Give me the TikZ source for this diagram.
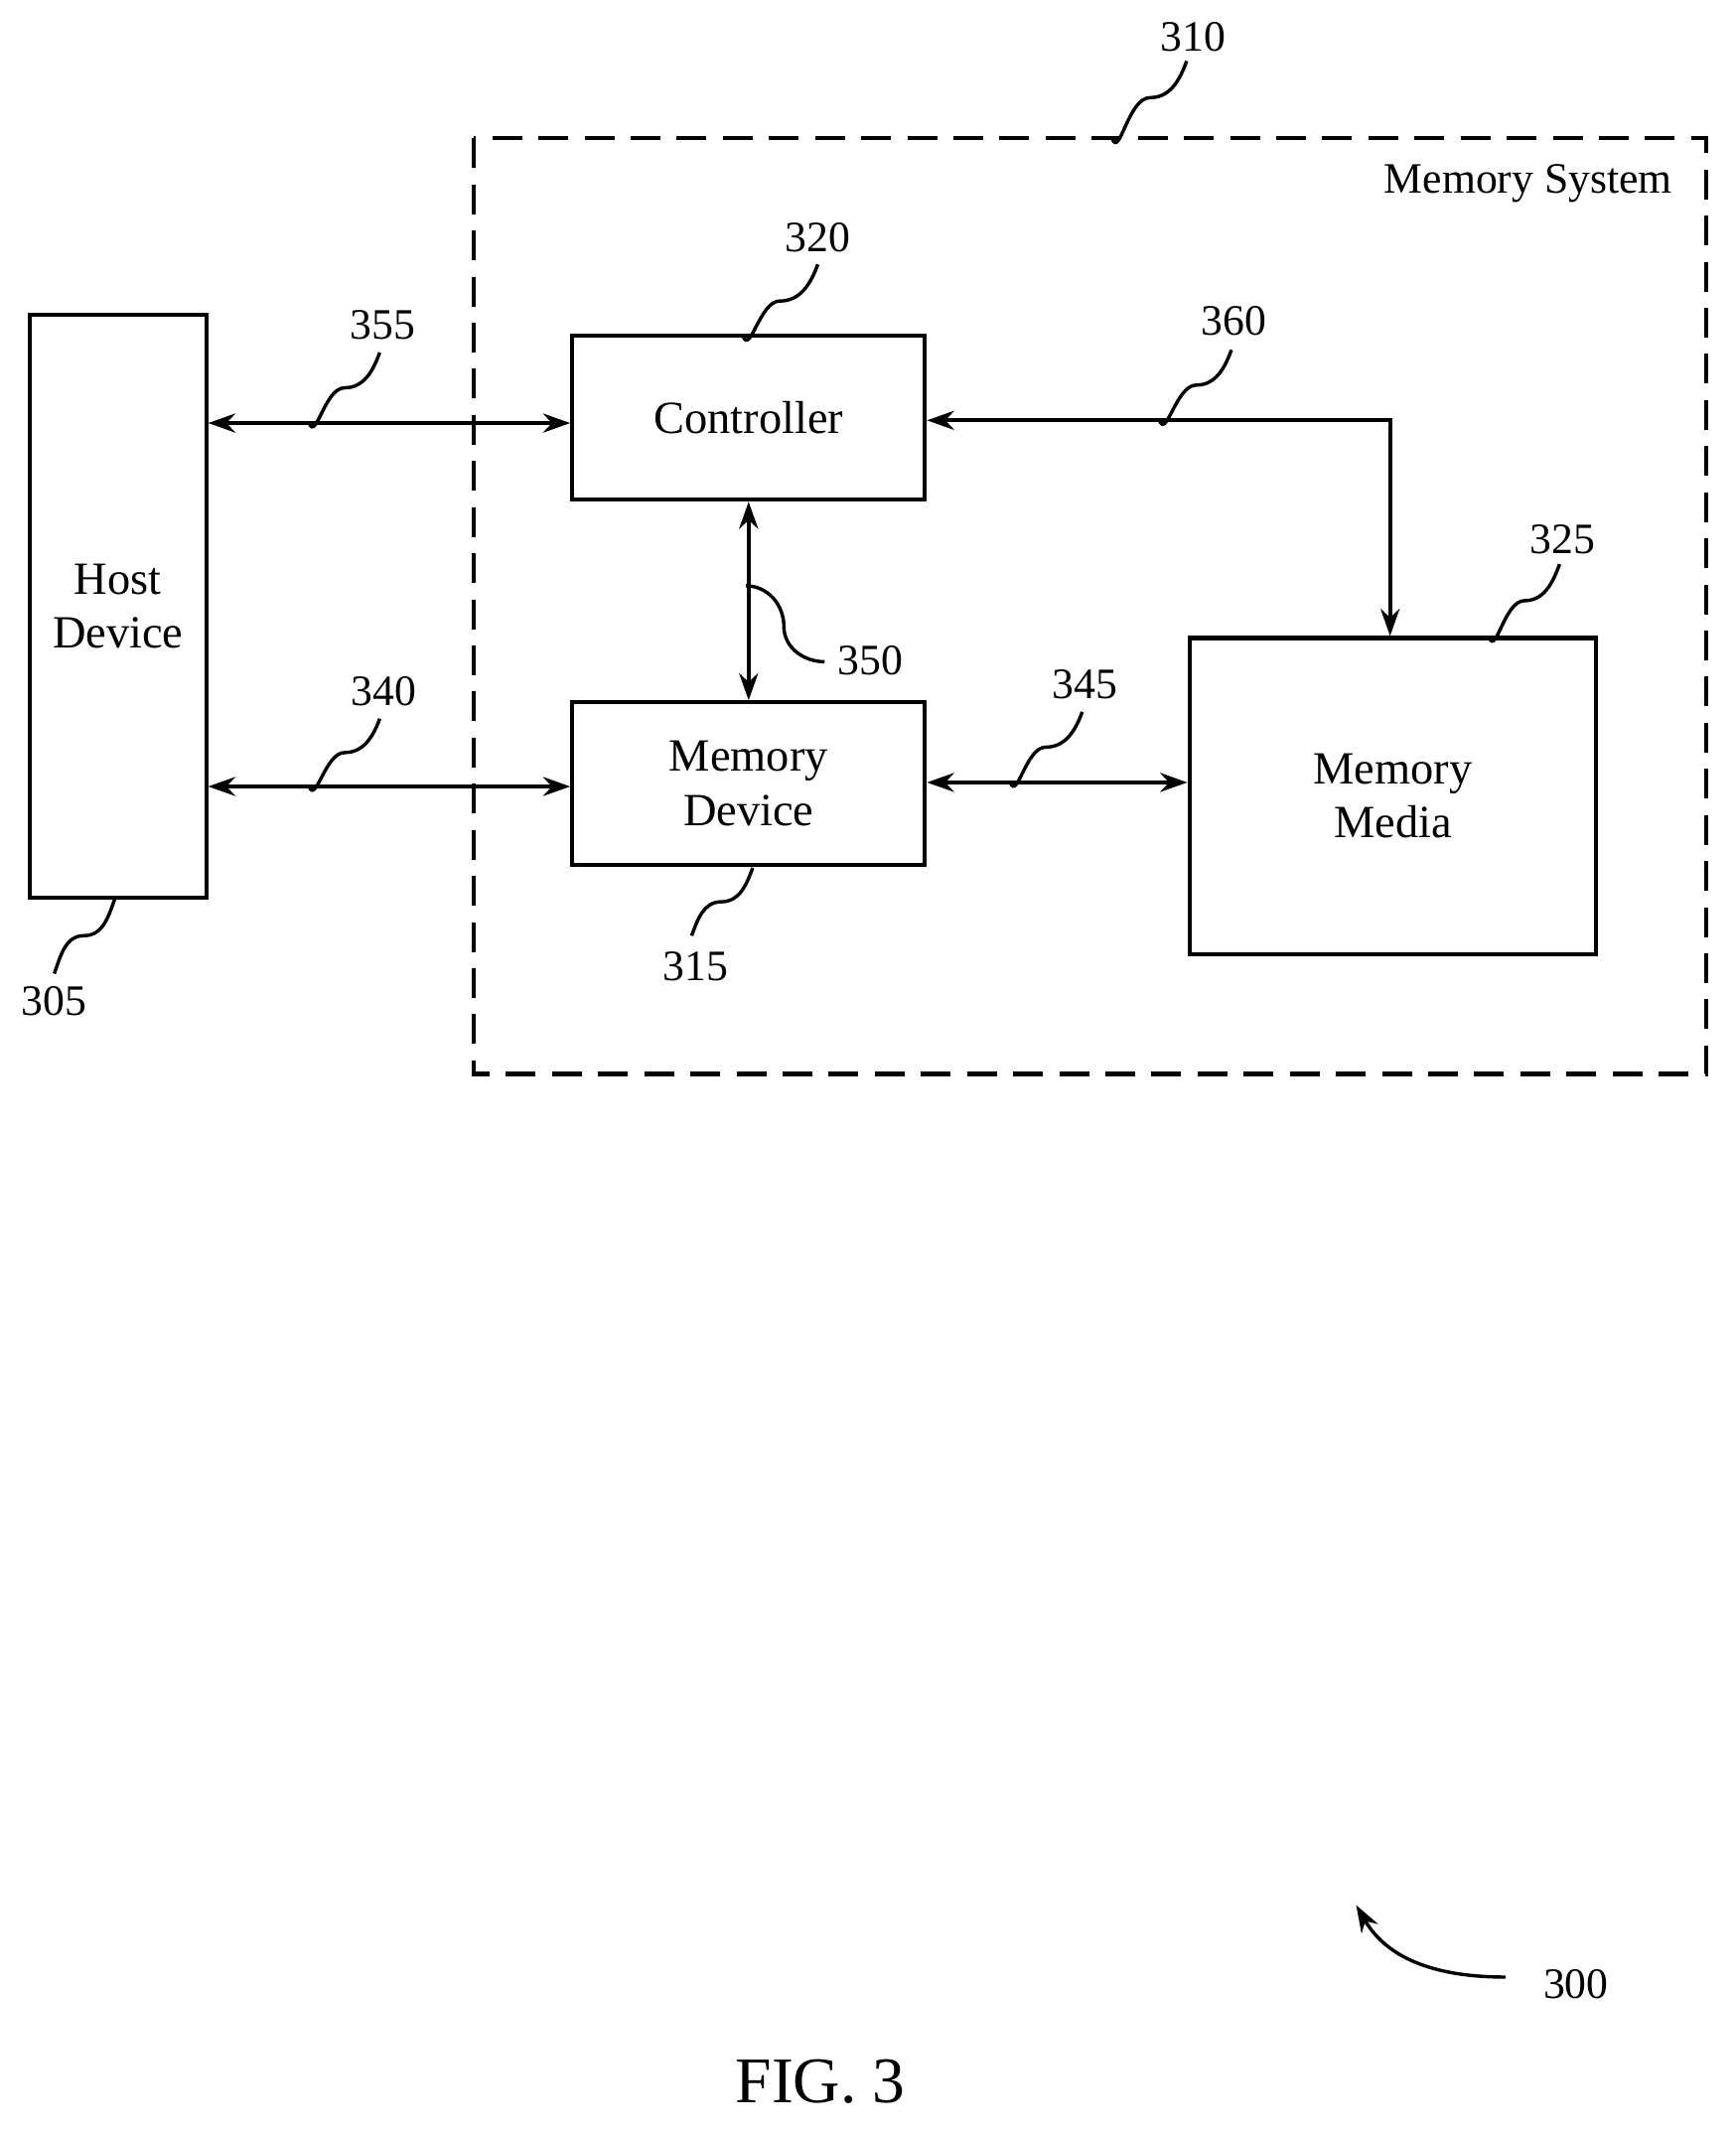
\documentclass[tikz,border=0pt]{standalone}
\usepackage{fontspec}
\setmainfont{Liberation Serif}
\usetikzlibrary{arrows.meta}
\begin{document}
\begin{tikzpicture}[x=1pt,y=-1pt,line width=3pt,
  box/.style={draw,align=center,inner sep=0pt,font=\fontsize{34}{40}\selectfont},
  lbl/.style={font=\fontsize{32}{36}\selectfont},
  ar/.style={{Stealth[length=20pt,width=14pt]}-{Stealth[length=20pt,width=14pt]}},
  ld/.style={line width=2.5pt}]
\useasboundingbox (0,0) rectangle (1280,1573);
\draw[dash pattern=on 22pt off 12pt] (349,102) rectangle (1258,792);
\node[font=\fontsize{32}{36}\selectfont,anchor=east] (ms) at (1238,135) {Memory System};
\node[box,minimum width=130pt,minimum height=430pt] (host) at (87,447) {Host\\Device};
\node[box,minimum width=260pt,minimum height=121pt] (ctl) at (552,308) {Controller};
\node[box,minimum width=260pt,minimum height=120pt] (md) at (552,578) {Memory\\Device};
\node[box,minimum width=300pt,minimum height=233pt] (mm) at (1027,587) {Memory\\Media};
\draw[ar] (host.east|-0,312) -- (ctl.west|-0,312);
\draw[ar] (host.east|-0,580) -- (md.west|-0,580);
\draw[ar] (ctl.south) -- (md.north);
\draw[ar] (md.east|-0,577) -- (mm.west|-0,577);
\draw[ar] (ctl.east|-0,310) -- (1025,310) -- (mm.north-|1025,0);
% labels
\node[lbl] (l310) at (880,27) {310};
\node[lbl] (l320) at (603,175) {320};
\node[lbl] (l355) at (282,240) {355};
\node[lbl] (l360) at (910,237) {360};
\node[lbl] (l325) at (1152,398) {325};
\node[lbl] (l350) at (642,487) {350};
\node[lbl] (l345) at (800,505) {345};
\node[lbl] (l340) at (283,510) {340};
\node[lbl] (l315) at (513,713) {315};
\node[lbl] (l305) at (40,738) {305};
\node[lbl] (l300) at (1162,1463) {300};
\node[font=\fontsize{48}{52}\selectfont] (fig) at (605,1535) {FIG. 3};
\draw[ld] (820,102) to[out=-70,in=180] (848,72) to[out=0,in=250] (875,45);
\draw[ld] (548,248) to[out=-70,in=180] (575,222) to[out=0,in=250] (603,195);
\draw[ld] (228,312) to[out=-70,in=180] (254,286) to[out=0,in=250] (280,260);
\draw[ld] (855,310) to[out=-70,in=180] (882,284) to[out=0,in=250] (908,258);
\draw[ld] (1098,470) to[out=-70,in=180] (1124,443) to[out=0,in=250] (1150,416);
\draw[ld] (745,577) to[out=-70,in=180] (771,551) to[out=0,in=250] (798,525);
\draw[ld] (228,580) to[out=-70,in=180] (254,555) to[out=0,in=250] (280,530);
\draw[ld] (550,432) to[out=0,in=90] (578,462) to[out=270,in=180] (608,488);
\draw[ld] (555,640) to[out=250,in=0] (532,665) to[out=180,in=70] (510,690);
\draw[ld] (85,662) to[out=250,in=0] (62,690) to[out=180,in=70] (40,718);
\draw[ld,-{Stealth[length=20pt,width=14pt]}] (1110,1458) to[out=180,in=-60] (1000,1405);
\end{tikzpicture}
\end{document}
